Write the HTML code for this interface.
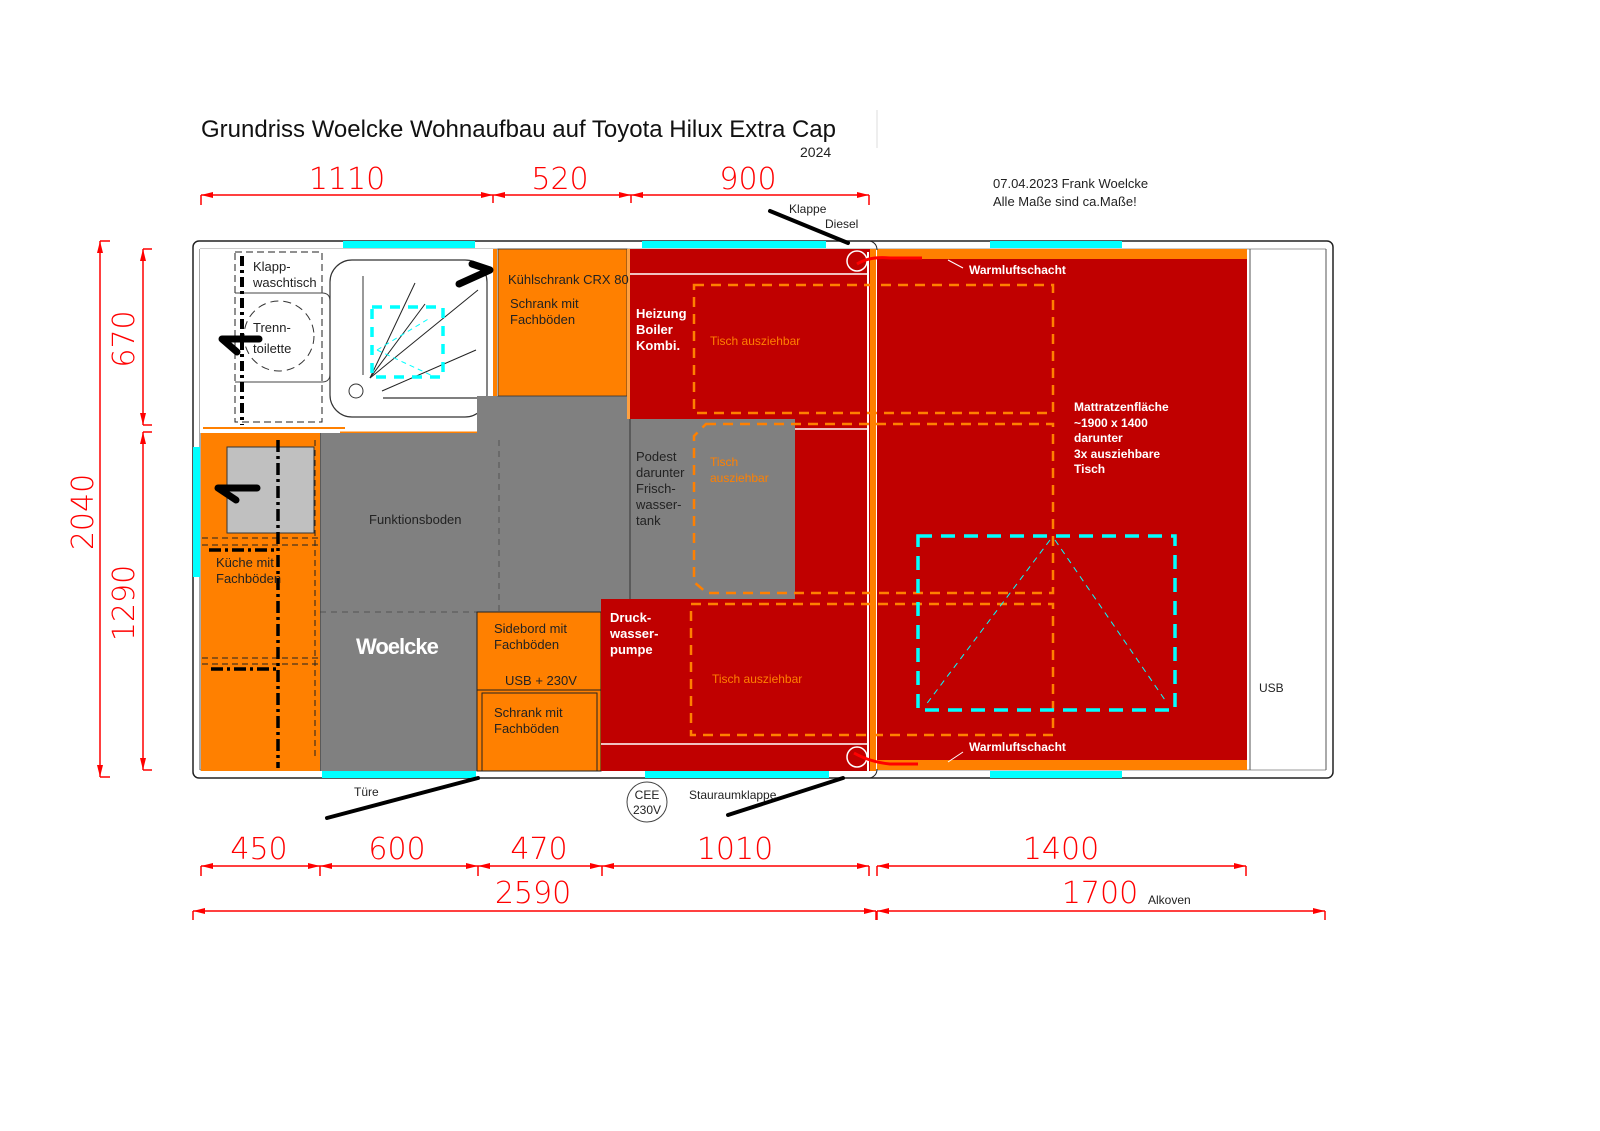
<!DOCTYPE html>
<html><head><meta charset="utf-8"><style>
html,body{margin:0;padding:0;background:#fff;}
svg{display:block;font-family:"Liberation Sans",sans-serif;}
.d{fill:#f00;font-size:30px;font-family:"DejaVu Sans","Liberation Sans",sans-serif;font-weight:200;}
</style></head><body>
<svg width="1600" height="1131" viewBox="0 0 1600 1131" xmlns="http://www.w3.org/2000/svg">
<defs>
<marker id="a" markerUnits="userSpaceOnUse" markerWidth="12" markerHeight="6" refX="12" refY="3" orient="auto-start-reverse"><path d="M0,0 L12,3 L0,6 z" fill="#f00"/></marker>
</defs>
<!-- title -->
<text x="201" y="137" font-size="24" fill="#111">Grundriss Woelcke Wohnaufbau auf Toyota Hilux Extra Cap</text>
<line x1="877" y1="110" x2="877" y2="148" stroke="#ddd"/>
<text x="800" y="157" font-size="14" fill="#222">2024</text>
<text x="993" y="188" font-size="13" fill="#222">07.04.2023 Frank Woelcke</text>
<text x="993" y="206" font-size="13" fill="#222">Alle Maße sind ca.Maße!</text>

<!-- body outline -->
<rect x="193" y="241" width="1140" height="537" rx="6" fill="#fff" stroke="#222" stroke-width="1.5"/>
<line x1="200" y1="249" x2="1326" y2="249" stroke="#999"/>
<line x1="200" y1="770" x2="1326" y2="770" stroke="#999"/>
<line x1="200" y1="249" x2="200" y2="770" stroke="#555"/>
<line x1="1326" y1="249" x2="1326" y2="770" stroke="#555"/>

<!-- bathroom -->
<rect x="200" y="249" width="295" height="184" fill="#fff"/>
<line x1="203" y1="428" x2="345" y2="428" stroke="#ff8000" stroke-width="2"/>
<rect x="493" y="249" width="4" height="180" fill="#ff8000"/>
<line x1="340" y1="433" x2="480" y2="433" stroke="#ff8000" stroke-width="3"/>
<rect x="235" y="252" width="87" height="170" fill="none" stroke="#222" stroke-dasharray="7,4"/>
<path d="M235,293 H322 Q330,293 330,301 V374 Q330,382 322,382 H235" fill="none" stroke="#444"/>
<circle cx="279" cy="336" r="35" fill="none" stroke="#333" stroke-dasharray="8,5"/>
<text x="253" y="271" font-size="13" fill="#222">Klapp-</text>
<text x="253" y="287" font-size="13" fill="#222">waschtisch</text>
<text x="253" y="332" font-size="13" fill="#222">Trenn-</text>
<text x="253" y="353" font-size="13" fill="#222">toilette</text>
<line x1="242" y1="256" x2="242" y2="425" stroke="#000" stroke-width="4" stroke-dasharray="10,4,3,4"/>
<path d="M259,339 H222 L237,352" fill="none" stroke="#000" stroke-width="7" stroke-linecap="round" stroke-linejoin="round"/>
<!-- shower -->
<rect x="330" y="260" width="157" height="157" rx="22" fill="#fff" stroke="#333" stroke-width="1.2"/>
<circle cx="356" cy="391" r="7" fill="none" stroke="#333"/>
<line x1="363" y1="276" x2="363" y2="375" stroke="#333"/>
<line x1="383" y1="398" x2="485" y2="398" stroke="#555" stroke-width="1.5"/>
<g stroke="#222"><line x1="370" y1="378" x2="415" y2="283"/><line x1="370" y1="378" x2="478" y2="290"/><line x1="370" y1="378" x2="425" y2="304"/><line x1="382" y1="391" x2="476" y2="350"/></g>
<rect x="372" y="307" width="71" height="70" fill="none" stroke="#0ff" stroke-width="3.5" stroke-dasharray="10,8"/>
<path d="M377,350 L430,318 M377,350 L435,377" stroke="#0ff" stroke-dasharray="5,4" fill="none"/>
<path d="M459,284 L490,270 L472,264" fill="none" stroke="#000" stroke-width="7" stroke-linecap="round" stroke-linejoin="round"/>

<!-- gray floor -->
<rect x="320" y="433" width="157" height="338" fill="#808080"/>
<rect x="477" y="396" width="153" height="216" fill="#808080"/>
<rect x="320" y="433" width="310" height="179" fill="#808080"/>
<line x1="320" y1="612" x2="477" y2="612" stroke="#555" stroke-dasharray="6,5"/>
<line x1="499" y1="440" x2="499" y2="612" stroke="#555" stroke-dasharray="6,5"/>
<line x1="320" y1="433" x2="320" y2="771" stroke="#333"/>
<text x="369" y="524" font-size="13" fill="#222">Funktionsboden</text>
<text x="356" y="654" font-size="22" font-weight="bold" fill="#fff" letter-spacing="-1">Woelcke</text>

<!-- Kühlschrank -->
<rect x="498" y="249" width="129" height="147" fill="#ff8000" stroke="#333" stroke-width="0.8"/>
<rect x="627" y="249" width="3" height="170" fill="#ffa040"/>
<text x="508" y="284" font-size="13" fill="#222">Kühlschrank CRX 80</text>
<text x="510" y="308" font-size="13" fill="#222">Schrank mit</text>
<text x="510" y="324" font-size="13" fill="#222">Fachböden</text>

<!-- kitchen -->
<rect x="201" y="433" width="119" height="338" fill="#ff8000"/>
<rect x="227" y="447" width="87" height="86" fill="#c0c0c0" stroke="#333"/>
<path d="M202,538 H318 M202,545 H318 M202,658 H318 M202,664 H318 M315,440 V760" stroke="#222" stroke-dasharray="6,4" fill="none"/>
<line x1="278" y1="440" x2="278" y2="768" stroke="#000" stroke-width="3.5" stroke-dasharray="12,4,3,4"/>
<line x1="209" y1="550" x2="278" y2="550" stroke="#000" stroke-width="3.5" stroke-dasharray="12,4,3,4"/>
<line x1="211" y1="669" x2="278" y2="669" stroke="#000" stroke-width="3.5" stroke-dasharray="12,4,3,4"/>
<path d="M257,488 H218 L236,500" fill="none" stroke="#000" stroke-width="7" stroke-linecap="round" stroke-linejoin="round"/>
<text x="216" y="567" font-size="13" fill="#222">Küche mit</text>
<text x="216" y="583" font-size="13" fill="#222">Fachböden</text>

<!-- sidebord -->
<rect x="477" y="612" width="124" height="159" fill="#ff8000" stroke="#222"/>
<line x1="477" y1="690" x2="601" y2="690" stroke="#222"/>
<rect x="482" y="693" width="115" height="78" fill="none" stroke="#222"/>
<text x="494" y="633" font-size="13" fill="#222">Sidebord mit</text>
<text x="494" y="649" font-size="13" fill="#222">Fachböden</text>
<text x="505" y="685" font-size="13" fill="#222">USB + 230V</text>
<text x="494" y="717" font-size="13" fill="#222">Schrank mit</text>
<text x="494" y="733" font-size="13" fill="#222">Fachböden</text>

<!-- red areas -->
<rect x="630" y="249" width="240" height="170" fill="#c00000"/>
<rect x="630" y="419" width="165" height="180" fill="#808080"/>
<line x1="630" y1="419" x2="630" y2="599" stroke="#333"/>
<rect x="795" y="419" width="75" height="180" fill="#c00000"/>
<rect x="601" y="599" width="269" height="172" fill="#c00000"/>
<line x1="630" y1="274" x2="868" y2="274" stroke="#fff" stroke-width="1.5"/>
<line x1="601" y1="744" x2="868" y2="744" stroke="#fff" stroke-width="1.5"/>
<line x1="795" y1="429" x2="868" y2="429" stroke="#fff" stroke-width="1.5"/>
<line x1="868" y1="252" x2="868" y2="771" stroke="#fff" stroke-width="2"/>
<rect x="870" y="249" width="6" height="522" fill="#ff8000"/>
<text x="636" y="318" font-size="13" font-weight="bold" fill="#fff">Heizung</text>
<text x="636" y="334" font-size="13" font-weight="bold" fill="#fff">Boiler</text>
<text x="636" y="350" font-size="13" font-weight="bold" fill="#fff">Kombi.</text>
<text x="636" y="461" font-size="13" fill="#222">Podest</text>
<text x="636" y="477" font-size="13" fill="#222">darunter</text>
<text x="636" y="493" font-size="13" fill="#222">Frisch-</text>
<text x="636" y="509" font-size="13" fill="#222">wasser-</text>
<text x="636" y="525" font-size="13" fill="#222">tank</text>
<text x="610" y="622" font-size="13" font-weight="bold" fill="#fff">Druck-</text>
<text x="610" y="638" font-size="13" font-weight="bold" fill="#fff">wasser-</text>
<text x="610" y="654" font-size="13" font-weight="bold" fill="#fff">pumpe</text>

<!-- alkoven -->
<rect x="877" y="249" width="370" height="521" fill="#ff8000"/>
<rect x="877" y="259" width="370" height="501" fill="#c00000"/>
<line x1="1250" y1="249" x2="1250" y2="770" stroke="#555"/>
<text x="969" y="274" font-size="12" font-weight="bold" fill="#fff">Warmluftschacht</text>
<text x="969" y="751" font-size="12" font-weight="bold" fill="#fff">Warmluftschacht</text>
<line x1="948" y1="260" x2="963" y2="268" stroke="#fff"/>
<line x1="948" y1="762" x2="963" y2="752" stroke="#fff"/>
<text x="1074" y="411" font-size="12" font-weight="bold" fill="#fff">Mattratzenfläche</text>
<text x="1074" y="427" font-size="12" font-weight="bold" fill="#fff">~1900 x 1400</text>
<text x="1074" y="442" font-size="12" font-weight="bold" fill="#fff">darunter</text>
<text x="1074" y="458" font-size="12" font-weight="bold" fill="#fff">3x ausziehbare</text>
<text x="1074" y="473" font-size="12" font-weight="bold" fill="#fff">Tisch</text>
<text x="1259" y="692" font-size="12" fill="#222">USB</text>

<!-- orange dashed tables -->
<g fill="none" stroke="#ff8000" stroke-width="2.5" stroke-dasharray="10,7">
<rect x="694" y="285" width="359" height="128"/>
<path d="M706,424 H1053 V593 H707 L694,582 V436 Z"/>
<rect x="691" y="604" width="362" height="131"/>
</g>
<text x="710" y="345" font-size="12" fill="#ff8000">Tisch ausziehbar</text>
<text x="710" y="466" font-size="12" fill="#ff8000">Tisch</text>
<text x="710" y="482" font-size="12" fill="#ff8000">ausziehbar</text>
<text x="712" y="683" font-size="12" fill="#ff8000">Tisch ausziehbar</text>

<!-- cyan dashed -->
<rect x="918" y="536" width="257" height="174" fill="none" stroke="#0ff" stroke-width="3.5" stroke-dasharray="14,9"/>
<path d="M1050,540 L925,706 M1055,540 L1165,700" stroke="#0ff" stroke-dasharray="6,5" fill="none"/>

<!-- circles / red vents -->
<circle cx="857" cy="261" r="10" fill="none" stroke="#fff" stroke-width="1.5"/>
<circle cx="857" cy="757" r="10" fill="none" stroke="#fff" stroke-width="1.5"/>
<path d="M857,264 Q870,256 890,258 H922" stroke="#f00" stroke-width="3" fill="none"/>
<path d="M854,753 Q870,762 890,764 H918" stroke="#f00" stroke-width="3" fill="none"/>

<!-- windows -->
<g fill="#0ff">
<rect x="343" y="241" width="132" height="7"/>
<rect x="642" y="241" width="184" height="7"/>
<rect x="990" y="241" width="132" height="7"/>
<rect x="322" y="771" width="154" height="7"/>
<rect x="645" y="771" width="184" height="7"/>
<rect x="990" y="771" width="132" height="7"/>
<rect x="193" y="447" width="7" height="130"/>
</g>
<path d="M870,241 Q877,243 877,250 M870,778 Q877,776 877,769" stroke="#222" fill="none"/>

<!-- flaps -->
<line x1="770" y1="211" x2="848" y2="243" stroke="#000" stroke-width="4" stroke-linecap="round"/>
<text x="789" y="213" font-size="12" fill="#222">Klappe</text>
<text x="825" y="228" font-size="12" fill="#222">Diesel</text>
<line x1="327" y1="818" x2="478" y2="778" stroke="#000" stroke-width="4" stroke-linecap="round"/>
<text x="354" y="796" font-size="12" fill="#222">Türe</text>
<line x1="728" y1="815" x2="843" y2="778" stroke="#000" stroke-width="4" stroke-linecap="round"/>
<text x="689" y="799" font-size="12" fill="#222">Stauraumklappe</text>
<circle cx="647" cy="802" r="20" fill="#fff" stroke="#444"/>
<text x="647" y="799" font-size="12" fill="#222" text-anchor="middle">CEE</text>
<text x="647" y="814" font-size="12" fill="#222" text-anchor="middle">230V</text>

<!-- dimensions -->
<g stroke="#f00" stroke-width="1.5" fill="none">
<path d="M201,205 V195 M493,203 V195 M631,203 V195 M869,205 V195"/>
<line x1="201" y1="195" x2="493" y2="195" marker-start="url(#a)" marker-end="url(#a)"/>
<line x1="493" y1="195" x2="631" y2="195" marker-start="url(#a)" marker-end="url(#a)"/>
<line x1="631" y1="195" x2="869" y2="195" marker-start="url(#a)" marker-end="url(#a)"/>
<line x1="100" y1="241" x2="100" y2="777" marker-start="url(#a)" marker-end="url(#a)"/>
<path d="M100,241 H110 M100,777 H110"/>
<line x1="143" y1="249" x2="143" y2="425" marker-start="url(#a)" marker-end="url(#a)"/>
<line x1="143" y1="432" x2="143" y2="770" marker-start="url(#a)" marker-end="url(#a)"/>
<path d="M143,249 H152 M143,425 H152 M143,432 H152 M143,770 H152"/>
<line x1="201" y1="866" x2="320" y2="866" marker-start="url(#a)" marker-end="url(#a)"/>
<line x1="320" y1="866" x2="478" y2="866" marker-start="url(#a)" marker-end="url(#a)"/>
<line x1="478" y1="866" x2="602" y2="866" marker-start="url(#a)" marker-end="url(#a)"/>
<line x1="602" y1="866" x2="869" y2="866" marker-start="url(#a)" marker-end="url(#a)"/>
<path d="M201,866 V876 M320,866 V876 M478,866 V876 M602,866 V876 M869,866 V876"/>
<line x1="877" y1="866" x2="1246" y2="866" marker-start="url(#a)" marker-end="url(#a)"/>
<path d="M877,866 V876 M1246,866 V876"/>
<line x1="193" y1="911" x2="876" y2="911" marker-start="url(#a)" marker-end="url(#a)"/>
<line x1="877" y1="911" x2="1325" y2="911" marker-start="url(#a)" marker-end="url(#a)"/>
<path d="M193,911 V920 M876,911 V920 M877,911 V920 M1325,911 V920"/>
</g>
<text class="d" x="347" y="189" text-anchor="middle">1110</text>
<text class="d" x="560" y="189" text-anchor="middle">520</text>
<text class="d" x="748" y="189" text-anchor="middle">900</text>
<text class="d" transform="translate(93,512) rotate(-90)" text-anchor="middle">2040</text>
<text class="d" transform="translate(134,339) rotate(-90)" text-anchor="middle">670</text>
<text class="d" transform="translate(134,603) rotate(-90)" text-anchor="middle">1290</text>
<text class="d" x="259" y="859" text-anchor="middle">450</text>
<text class="d" x="397" y="859" text-anchor="middle">600</text>
<text class="d" x="539" y="859" text-anchor="middle">470</text>
<text class="d" x="735" y="859" text-anchor="middle">1010</text>
<text class="d" x="1061" y="859" text-anchor="middle">1400</text>
<text class="d" x="533" y="903" text-anchor="middle">2590</text>
<text class="d" x="1100" y="903" text-anchor="middle">1700</text>
<text x="1148" y="904" font-size="12" fill="#222">Alkoven</text>
</svg>
</body></html>
